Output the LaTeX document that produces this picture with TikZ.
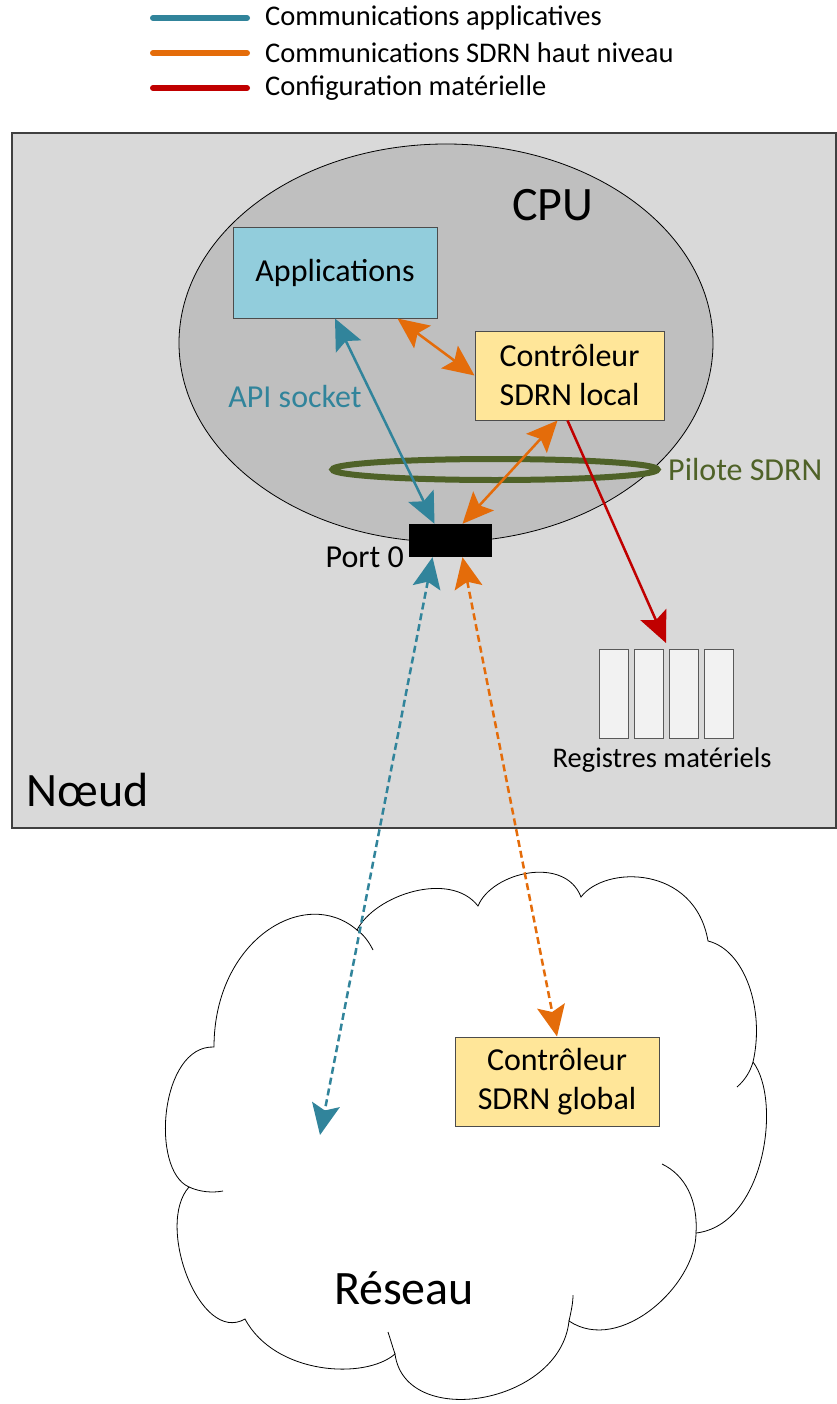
\documentclass[tikz,border=0pt]{standalone}
\usepackage{fontspec}
\setmainfont{Carlito}
\usepackage{tikz}
\usetikzlibrary{arrows.meta, positioning, calc, shapes.geometric}

\definecolor{appcol}{HTML}{31849B}
\definecolor{sdrncol}{HTML}{E46C0A}
\definecolor{hwcol}{HTML}{C00000}
\definecolor{pilcol}{HTML}{4F6228}
\definecolor{noeudfill}{HTML}{D9D9D9}
\definecolor{cpufill}{HTML}{BFBFBF}
\definecolor{appfill}{HTML}{92CDDC}
\definecolor{ctrlfill}{HTML}{FFE699}
\definecolor{regfill}{HTML}{F2F2F2}

\begin{document}
\begin{tikzpicture}[x=1pt, y=-1pt, >={Stealth[length=31pt,width=28pt,inset=6pt]},
  boxnode/.style={draw=black!70, line width=1pt, inner sep=0pt, align=center, font=\fontsize{32}{39}\selectfont},
  regnode/.style={draw=black!65, fill=regfill, line width=1pt, minimum width=29pt, minimum height=89pt, inner sep=0pt},
  link/.style={line width=2.5pt},
  dashlink/.style={line width=2.5pt, dash pattern=on 7pt off 4pt},
  lbl/.style={font=\fontsize{32}{39}\selectfont, inner sep=0pt},
  bigl/.style={font=\fontsize{48}{58}\selectfont, inner sep=0pt}]
  \useasboundingbox (0,0) rectangle (837,1404);
  % legend
  \foreach \c/\t [count=\i] in {appcol/Communications applicatives, sdrncol/Communications SDRN haut niveau, hwcol/Configuration matérielle}
  {
    \draw[\c, line width=6pt, line cap=round] (153,{-17+35*\i}) -- (247,{-17+35*\i});
    \node[anchor=west, inner sep=0pt, font=\fontsize{28.5}{34}\selectfont] (leg\i) at (265,{-17+35*\i}) {\t};
  }
  % node and CPU
  \draw[fill=noeudfill, draw=black!75, line width=1.5pt] (12,133) rectangle (836,828);
  \node[ellipse, draw, fill=cpufill, line width=0.8pt, minimum width=534pt, minimum height=398pt, inner sep=0pt] (cpu) at (446,343) {};
  \node[bigl] (cpulbl) at (553,205) {CPU};
  \node[bigl] (noeudlbl) at (88,790) {Nœud};
  % boxes
  \node[boxnode, fill=appfill, minimum width=204pt, minimum height=90pt] (apps) at (335,273) {Applications};
  \node[boxnode, fill=ctrlfill, minimum width=189pt, minimum height=89pt] (lctrl) at (569.5,375.5) {Contrôleur\\SDRN local};
  \node[ellipse, draw=pilcol, line width=6pt, minimum width=325pt, minimum height=21pt, inner sep=0pt] (pilote) at (495,469.5) {};
  \node[lbl, text=pilcol, anchor=west] (pillbl) at (668,470) {Pilote SDRN};
  \node[fill=black, minimum width=83pt, minimum height=33pt, inner sep=0pt] (port) at (450.5,540.5) {};
  \node[lbl, anchor=east] (portlbl) at (404,557) {Port 0};
  % registers
  \foreach \i in {1,...,4}
    \node[regnode] (reg\i) at ({578.5+35*\i},693.5) {};
  \node[font=\fontsize{28.5}{34}\selectfont, inner sep=0pt] (reglbl) at (662,760) {Registres matériels};
  % network cloud
  \draw[fill=white, line width=0.8pt] (214,1047) .. controls (214,940) and (305,885) .. (357,930)
    .. controls (375,895) and (450,870) .. (478,906)
    .. controls (492,872) and (565,855) .. (581,897)
    .. controls (605,865) and (695,865) .. (708,941)
    .. controls (745,950) and (765,1010) .. (753,1062)
    .. controls (782,1100) and (765,1225) .. (696,1233)
    .. controls (696,1285) and (620,1355) .. (569,1321)
    .. controls (560,1405) and (405,1430) .. (395,1354)
    .. controls (365,1380) and (275,1375) .. (245,1319)
    .. controls (200,1345) and (155,1225) .. (189,1187)
    .. controls (150,1170) and (160,1045) .. (214,1047) -- cycle;
  \draw[line width=0.8pt] (357,930) .. controls (364,935) and (369,942) .. (373,950);
  \draw[line width=0.8pt] (753,1062) .. controls (750,1072) and (745,1080) .. (737,1087);
  \draw[line width=0.8pt] (696,1233) .. controls (698,1200) and (685,1175) .. (662,1164);
  \draw[line width=0.8pt] (569,1321) .. controls (571,1312) and (573,1303) .. (573,1295);
  \draw[line width=0.8pt] (395,1354) .. controls (392,1345) and (390,1338) .. (388,1332);
  \draw[line width=0.8pt] (189,1187) .. controls (200,1192) and (212,1193) .. (223,1191);
  \node[boxnode, fill=ctrlfill, minimum width=204pt, minimum height=89pt] (gctrl) at (557,1081.5) {Contrôleur\\SDRN global};
  \node[bigl] (reseau) at (404,1288) {Réseau};
  % connectors
  \draw[link, appcol, <->] (apps.south) -- ([xshift=-16pt]port.north);
  \node[lbl, text=appcol] (apilbl) at (295,397) {API socket};
  \draw[link, sdrncol, <->] ([xshift=-40pt]apps.south east) -- (lctrl.west);
  \draw[link, sdrncol, <->] ([xshift=-12pt]lctrl.south) -- ([xshift=12pt]port.north);
  \coordinate (regtip) at (666,643);
  \draw[link, hwcol, ->] ([xshift=-2pt]lctrl.south) -- (regtip);
  \coordinate (netend) at (320,1135);
  \draw[dashlink, appcol, <->] ([xshift=-18pt]port.south) -- (netend);
  \draw[dashlink, sdrncol, <->] ([xshift=12pt]port.south) -- (gctrl.north);
\end{tikzpicture}
\end{document}
